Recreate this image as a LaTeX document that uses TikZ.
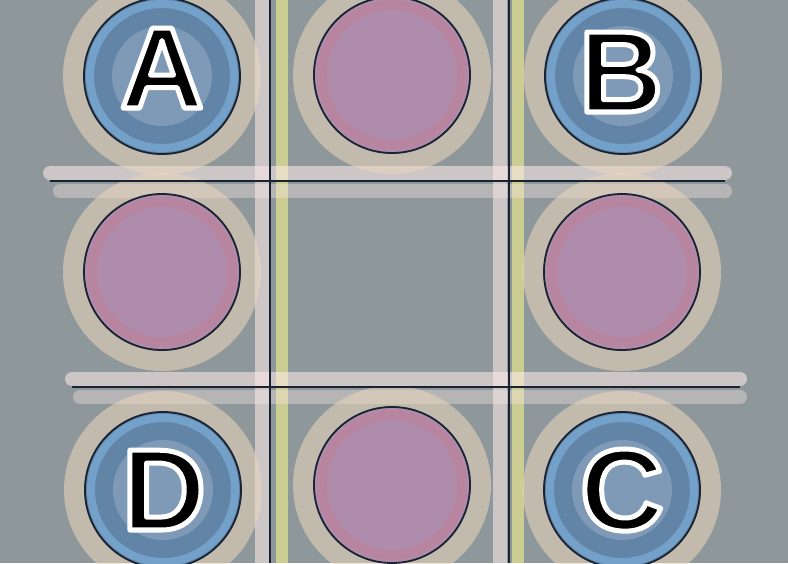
\documentclass[tikz,border=0pt]{standalone}
\usepackage{fontspec}
\setmainfont{Liberation Sans}
\definecolor{bg}{RGB}{142,152,154}
\definecolor{cornerfill}{RGB}{98,132,166}
\definecolor{cornerring}{RGB}{130,185,230}
\definecolor{pinkfill}{RGB}{176,140,172}
\definecolor{pinkring}{RGB}{200,120,130}
\definecolor{halocol}{RGB}{236,214,190}
\definecolor{linecol}{RGB}{25,35,50}
\newcommand{\outl}[1]{\special{pdf:literal direct 2 Tr 5 w 1 j 1 1 1 RG}#1\special{pdf:literal direct 0 Tr}}
\begin{document}
\begin{tikzpicture}[x=1pt,y=-1pt,
  halo/.style={line width=20pt,draw=halocol,opacity=0.55},
  cornerc/.style={circle,minimum size=156pt,inner sep=0pt,fill=cornerfill,draw=linecol,line width=1.8pt},
  edgec/.style={circle,minimum size=156pt,inner sep=0pt,fill=pinkfill,draw=linecol,line width=1.8pt},
  letter/.style={font=\fontsize{116}{116}\selectfont\bfseries,text=black,anchor=base,inner sep=0pt},
  gridline/.style={draw=linecol,line width=2pt},
  band/.style={line width=14pt,draw=pink!30!white,opacity=0.55},
  yband/.style={line width=12pt,draw=yellow!45!white,opacity=0.55}]
\fill[bg] (0,0) rectangle (788,563);
\useasboundingbox (0,0) rectangle (788,563);
% glow bands
\draw[band] (262,0) -- (262,563);
\draw[yband] (282,0) -- (282,563);
\draw[band] (500,0) -- (500,563);
\draw[yband] (518,0) -- (518,563);
\draw[band,line cap=round] (50,173) -- (725,173);
\draw[band,line cap=round,opacity=0.35] (60,191) -- (725,191);
\draw[band,line cap=round] (72,379) -- (740,379);
\draw[band,line cap=round,opacity=0.35] (80,397) -- (740,397);
% halos
\foreach \p in {(162,76),(392,75),(623,76),(162,272),(622,272),(163,490),(392,485),(622,490)}
  \draw[halo] \p circle (89);
% circles
\node[cornerc] (A) at (162,76) {};
\node[edgec] (T) at (392,75) {};
\node[cornerc] (B) at (623,76) {};
\node[edgec] (L) at (162,272) {};
\node[edgec] (R) at (622,272) {};
\node[cornerc] (D) at (163,490) {};
\node[edgec] (M) at (392,485) {};
\node[cornerc] (C) at (622,490) {};
\foreach \n in {A,B,C,D}{
  \draw[line width=8pt,draw=cornerring,opacity=0.55] (\n) circle (72);
  \fill[white,opacity=0.18] (\n) circle (50);
}
\foreach \n in {T,L,R,M}
  \draw[line width=10pt,draw=pinkring,opacity=0.3] (\n) circle (70);
\node[letter] (tA) at (162,108) {\outl{A}};
\node[letter] (tB) at (621,112) {\outl{B}};
\node[letter] (tC) at (622,530) {\outl{C}};
\node[letter] (tD) at (164,530) {\outl{D}};
% grid lines
\coordinate (v1t) at (270,0); \coordinate (v1b) at (270,563);
\coordinate (v2t) at (509,0); \coordinate (v2b) at (509,563);
\coordinate (h1l) at (50,181); \coordinate (h1r) at (725,181);
\coordinate (h2l) at (72,387); \coordinate (h2r) at (740,387);
\draw[gridline] (v1t) -- (v1b);
\draw[gridline] (v2t) -- (v2b);
\draw[gridline] (h1l) -- (h1r);
\draw[gridline] (h2l) -- (h2r);
\end{tikzpicture}
\end{document}
